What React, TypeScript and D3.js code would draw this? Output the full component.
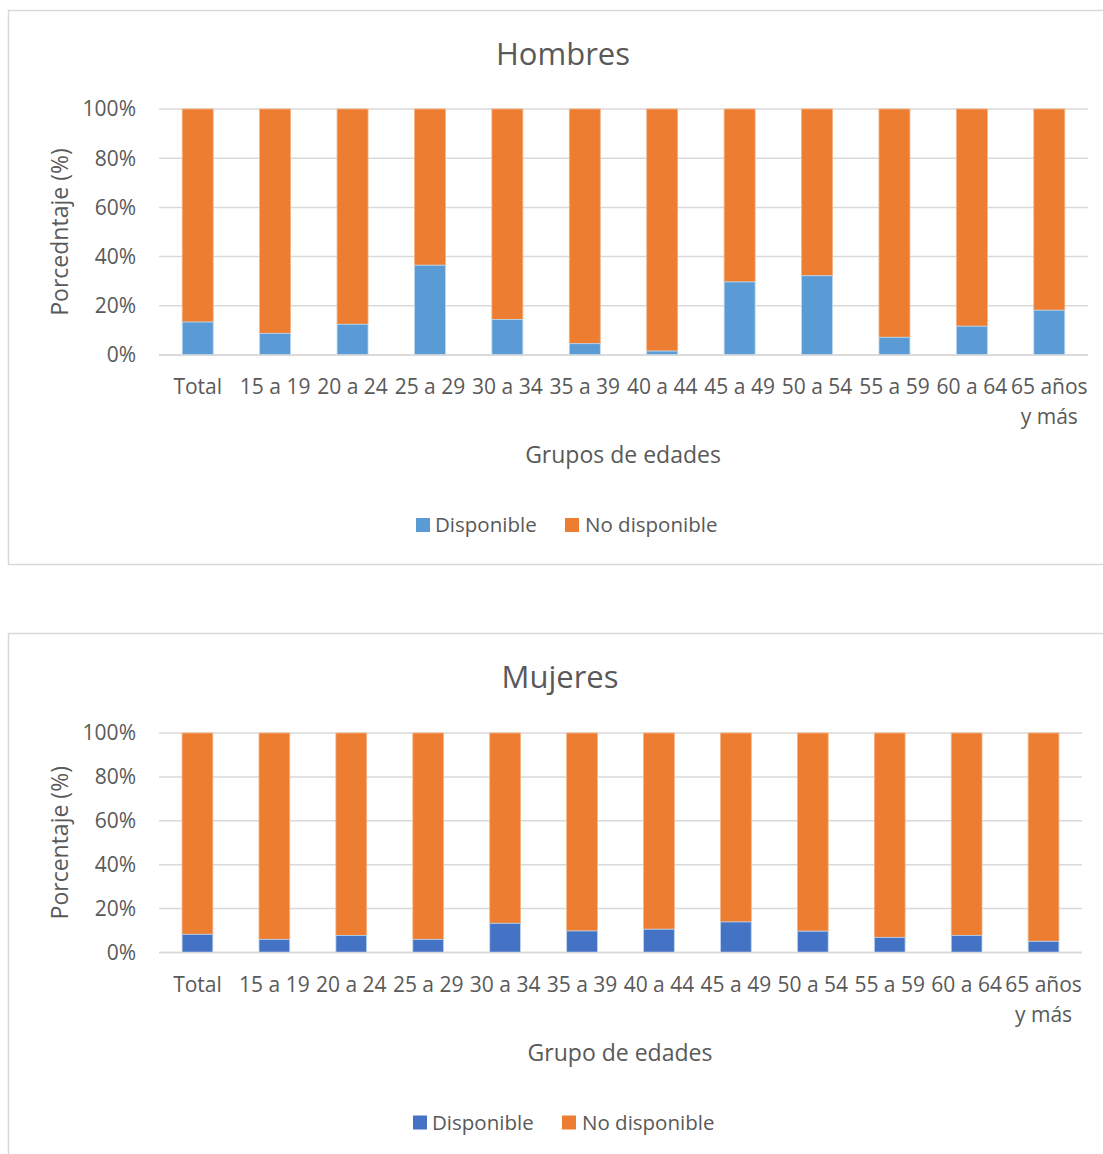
import React from "react";
import * as d3 from "d3";

const categories = [
  "Total", "15 a 19", "20 a 24", "25 a 29", "30 a 34", "35 a 39",
  "40 a 44", "45 a 49", "50 a 54", "55 a 59", "60 a 64", "65 años\ny más",
];
const hombresDisponible = [13.4, 8.8, 12.5, 36.5, 14.4, 4.6, 1.6, 29.7, 32.2, 7.2, 11.7, 18.2];
const mujeresDisponible = [8.3, 6.0, 7.8, 6.0, 13.3, 9.8, 10.6, 13.9, 9.7, 6.9, 7.8, 5.1];
const yTicks = [0, 20, 40, 60, 80, 100];
const seriesNames = ["Disponible", "No disponible"];

const FONT = "'Open Sans', sans-serif";
const TEXT = "#595959";
const GRID = "#D9D9D9";
const ORANGE = "#ED7D31";

type ChartProps = {
  top: number;
  title: string;
  xTitle: string;
  yTitle: string;
  values: number[];
  blue: string;
  plot: { x0: number; x1: number; y0: number; y1: number };
  titleX: number;
  xTitleX: number;
  legendX: number;
  boxBottom: number;
};

function Chart(p: ChartProps) {
  const x = d3.scaleBand<string>().domain(categories).range([p.plot.x0, p.plot.x1]).paddingInner(0.6).paddingOuter(0.3);
  const y = d3.scaleLinear().domain([0, 100]).range([p.plot.y1, p.plot.y0]);
  const fmt = (v: number) => `${v}%`;
  const yMid = (p.plot.y0 + p.plot.y1) / 2;
  return (
    <g>
      <rect x={8.5} y={p.top + 0.5} width={1200} height={p.boxBottom - p.top} fill="#fff" stroke={GRID} strokeWidth={1.5} />
      <text x={p.titleX} y={p.top + 55} textAnchor="middle" fontSize={31} fill={TEXT} fontFamily={FONT}>{p.title}</text>
      {yTicks.map((t) => (
        <g key={t}>
          <line x1={p.plot.x0} x2={p.plot.x1} y1={y(t)} y2={y(t)} stroke={GRID} strokeWidth={1.5} />
          <text x={136} y={y(t)} dy="0.35em" textAnchor="end" fontSize={21} fill={TEXT} fontFamily={FONT}>{fmt(t)}</text>
        </g>
      ))}
      {categories.map((c, i) => {
        const v = p.values[i];
        const bx = x(c)!;
        const bw = x.bandwidth();
        return (
          <g key={c}>
            <rect x={bx} y={y(100)} width={bw} height={y(v) - y(100)} fill={ORANGE} stroke="#F4B183" strokeWidth={0.8} />
            <rect x={bx} y={y(v)} width={bw} height={y(0) - y(v)} fill={p.blue} stroke="#BDD7EE" strokeWidth={0.8} />
          </g>
        );
      })}
      <line x1={p.plot.x0} x2={p.plot.x1} y1={y(0)} y2={y(0)} stroke={GRID} strokeWidth={1.5} />
      {categories.map((c) => {
        const lines = c.split("\n");
        const cx = x(c)! + x.bandwidth() / 2;
        return (
          <text key={c} textAnchor="middle" fontSize={21} fill={TEXT} fontFamily={FONT}>
            {lines.map((l, k) => (
              <tspan key={k} x={cx} y={y(0) + 39 + k * 30}>{l}</tspan>
            ))}
          </text>
        );
      })}
      <text x={p.xTitleX} y={y(0) + 108} textAnchor="middle" fontSize={23} fill={TEXT} fontFamily={FONT}>{p.xTitle}</text>
      <text transform={`translate(68,${yMid}) rotate(-90)`} textAnchor="middle" fontSize={23} fill={TEXT} fontFamily={FONT}>{p.yTitle}</text>
      <g transform={`translate(${p.legendX},${y(0) + 170})`}>
        <rect x={0} y={-7} width={14} height={14} fill={p.blue} />
        <text x={19} y={0} dy="0.35em" fontSize={20.5} fill={TEXT} fontFamily={FONT}>{seriesNames[0]}</text>
        <rect x={149} y={-7} width={14} height={14} fill={ORANGE} />
        <text x={169} y={0} dy="0.35em" fontSize={20.5} fill={TEXT} fontFamily={FONT}>{seriesNames[1]}</text>
      </g>
    </g>
  );
}

export default function App() {
  return (
    <svg width={1103} height={1154} style={{ position: "absolute", left: 0, top: 0, background: "#fff" }}>
      <Chart
        top={10}
        title="Hombres"
        xTitle="Grupos de edades"
        yTitle="Porcedntaje (%)"
        values={hombresDisponible}
        blue="#5B9BD5"
        plot={{ x0: 159, x1: 1088, y0: 109, y1: 355 }}
        titleX={563}
        xTitleX={623}
        legendX={416}
        boxBottom={564}
      />
      <Chart
        top={633}
        title="Mujeres"
        xTitle="Grupo de edades"
        yTitle="Porcentaje (%)"
        values={mujeresDisponible}
        blue="#4472C4"
        plot={{ x0: 159, x1: 1082, y0: 733, y1: 952.5 }}
        titleX={560}
        xTitleX={620}
        legendX={413}
        boxBottom={1300}
      />
    </svg>
  );
}
